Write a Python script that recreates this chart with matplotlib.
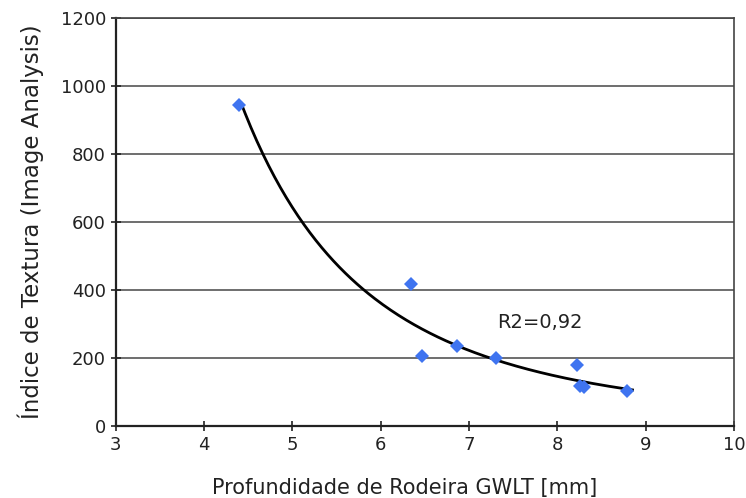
import numpy as np
import matplotlib.pyplot as plt

# data
depth = [4.40, 6.34, 6.47, 6.86, 7.31, 8.22, 8.26, 8.30, 8.79]
texture = [944, 418, 204, 235, 200, 179, 118, 115, 101]

# power-law trend y = a * x^b
b, log_a = np.polyfit(np.log(depth), np.log(texture), 1)
xf = np.linspace(4.42, 8.85, 200)
yf = np.exp(log_a) * xf ** b

fig = plt.figure(figsize=(7.46, 4.98), dpi=100)
ax = fig.add_axes([0.155, 0.145, 0.829, 0.819])

ax.yaxis.grid(True, color='#555555', linewidth=1.2)
ax.set_axisbelow(True)
ax.plot(xf, yf, color='black', linewidth=2)
ax.plot(depth, texture, 'D', color='#3f74f0', markersize=7.5, markeredgewidth=0)

ax.text(7.32, 305, 'R2=0,92', fontsize=14, va='center', color='#222222')

ax.set_xlim(3, 10)
ax.set_ylim(0, 1200)
ax.set_xticks(np.arange(3, 11, 1))
ax.set_yticks(np.arange(0, 1201, 200))
ax.tick_params(direction='inout', length=7, width=1.2, labelsize=13, colors='#222222')
for s in ax.spines.values():
    s.set_color('#444444')
    s.set_linewidth(1.2)
ax.spines['left'].set_color('#222222')
ax.spines['bottom'].set_color('#222222')
ax.spines['left'].set_linewidth(1.6)
ax.spines['bottom'].set_linewidth(1.6)

ax.set_xlabel('Profundidade de Rodeira GWLT [mm]', fontsize=15, color='#222222')
ax.xaxis.set_label_coords(0.468, -0.127)
ax.set_ylabel('Índice de Textura (Image Analysis)', fontsize=16.5, color='#222222', labelpad=12)

fig.savefig('out.png', dpi=100)
